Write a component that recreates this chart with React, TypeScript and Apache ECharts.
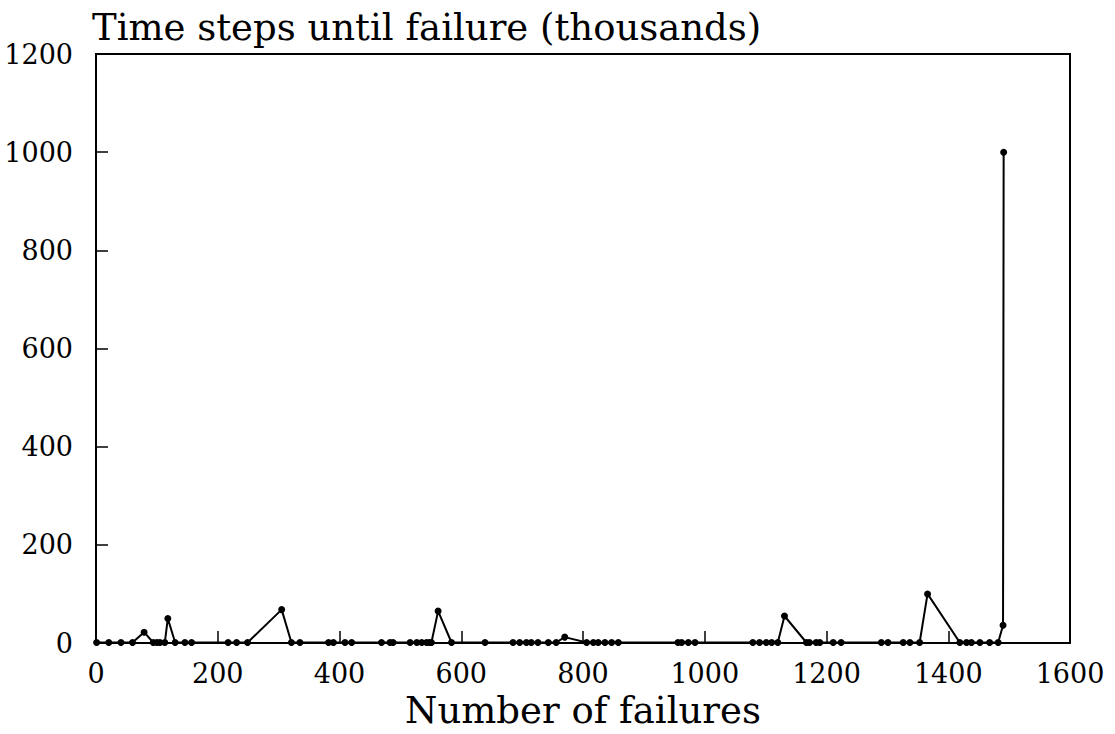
import React, { useEffect, useRef } from "react";
import * as echarts from "echarts";

const failures = [
  1, 21, 41, 60, 79, 94, 100, 105, 113, 118, 130, 146, 157, 217, 231, 249, 305, 321, 335,
  382, 390, 409, 420, 469, 483, 488, 516, 527, 535, 543, 548, 551, 562, 584, 639, 685, 696,
  707, 715, 726, 743, 756, 770, 806, 817, 825, 836, 847, 858, 956, 962, 973, 984, 1079, 1090,
  1101, 1110, 1120, 1131, 1167, 1172, 1183, 1189, 1211, 1224, 1290, 1301, 1326, 1337, 1353,
  1366, 1419, 1430, 1438, 1452, 1468, 1482, 1490, 1491,
];
const timeSteps = [
  1, 1, 1, 1, 22, 1, 1, 1, 1, 50, 1, 1, 1, 1, 1, 1, 68, 1, 1,
  1, 1, 1, 1, 1, 1, 1, 1, 1, 1, 1, 1, 1, 65, 1, 1, 1, 1,
  1, 1, 1, 1, 1, 12, 1, 1, 1, 1, 1, 1, 1, 1, 1, 1, 1, 1,
  1, 1, 1, 55, 1, 1, 1, 1, 1, 1, 1, 1, 1, 1, 1,
  100, 1, 1, 1, 1, 1, 1, 36, 1000,
];
const xTicks = [0, 200, 400, 600, 800, 1000, 1200, 1400, 1600];
const yTicks = [0, 200, 400, 600, 800, 1000, 1200];

export default function App() {
  const ref = useRef<HTMLDivElement>(null);
  useEffect(() => {
    if (!ref.current) return;
    const chart = echarts.init(ref.current, undefined, { renderer: "svg" });
    const font = "DejaVu Serif";
    chart.setOption({
      animation: false,
      backgroundColor: "#fff",
      title: {
        text: "Time steps until failure (thousands)",
        left: 87,
        top: 4,
        textStyle: { fontFamily: font, fontSize: 37, fontWeight: "normal", color: "#000" },
      },
      grid: { left: 96, right: 45, top: 54, bottom: 91, show: true, borderColor: "#000", borderWidth: 2 },
      xAxis: {
        type: "value",
        min: xTicks[0],
        max: xTicks[xTicks.length - 1],
        interval: 200,
        name: "Number of failures",
        nameLocation: "middle",
        nameGap: 44,
        nameTextStyle: { fontFamily: font, fontSize: 37, color: "#000" },
        axisLine: { show: true, lineStyle: { color: "#000", width: 2 } },
        axisTick: { show: true, inside: true, length: 12, lineStyle: { color: "#000", width: 1.5 } },
        axisLabel: {
          fontFamily: font,
          fontSize: 27,
          color: "#000",
          margin: 17,
          formatter: (v: number) => String(v),
        },
        splitLine: { show: false },
      },
      yAxis: {
        type: "value",
        min: yTicks[0],
        max: yTicks[yTicks.length - 1],
        interval: 200,
        axisLine: { show: true, lineStyle: { color: "#000", width: 2 } },
        axisTick: { show: true, inside: true, length: 12, lineStyle: { color: "#000", width: 1.5 } },
        axisLabel: {
          fontFamily: font,
          fontSize: 27,
          color: "#000",
          margin: 23,
          formatter: (v: number) => String(v),
        },
        splitLine: { show: false },
      },
      series: [
        {
          type: "line",
          data: failures.map((x, i) => [x, timeSteps[i]]),
          symbol: "circle",
          symbolSize: 7,
          showAllSymbol: true,
          lineStyle: { color: "#000", width: 2 },
          itemStyle: { color: "#000" },
        },
      ],
    });
    return () => chart.dispose();
  }, []);
  return (
    <div
      ref={ref}
      style={{ position: "fixed", left: 0, top: 0, width: 1115, height: 734, background: "#fff" }}
    />
  );
}
